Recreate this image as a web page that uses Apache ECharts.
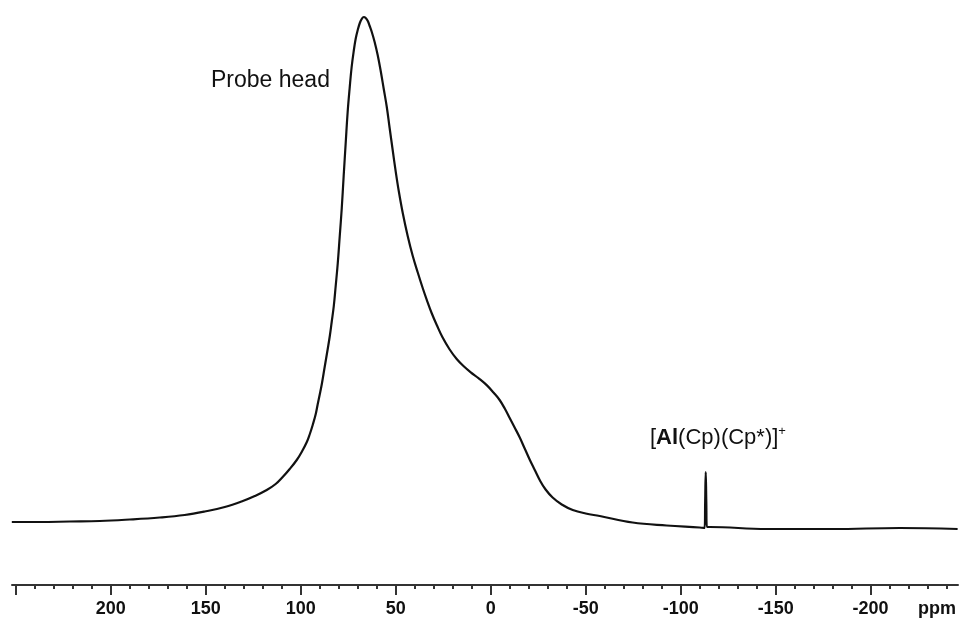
<!DOCTYPE html>
<html>
<head>
<meta charset="utf-8">
<script src="https://cdn.jsdelivr.net/npm/echarts@6/dist/echarts.min.js"></script>
<style>html,body{margin:0;padding:0;background:#fff;}#c{width:962px;height:621px;}</style>
</head>
<body>
<div id="c"></div>
<script>
// chemical shift (ppm) and intensity (arbitrary units)
const shiftPpm = [252.1, 237.4, 221.6, 205.8, 190.0, 174.2, 161.1, 150.5, 140.0, 130.5, 124.2, 117.9, 113.2, 109.5, 105.8, 102.1, 99.5, 96.8, 95.3, 93.7, 92.1, 91.1, 90.0, 88.9, 87.4, 85.8, 84.7, 83.7, 82.6, 81.6, 80.5, 79.5, 78.4, 77.4, 76.3, 75.3, 74.2, 73.2, 72.1, 71.1, 70.0, 68.9, 67.9, 66.8, 65.8, 64.7, 63.7, 62.6, 61.1, 59.5, 57.9, 56.3, 54.7, 53.2, 51.6, 50.0, 48.4, 46.3, 43.7, 41.1, 38.4, 35.8, 33.7, 31.1, 28.4, 25.3, 21.6, 17.9, 14.2, 10.5, 6.3, 2.1, -1.6, -4.7, -7.4, -10.0, -12.6, -15.3, -17.9, -20.5, -23.2, -25.8, -28.9, -32.6, -37.4, -43.2, -50.0, -57.4, -74.7, -92.6, -110.0, -112.6, -112.9, -113.2, -113.5, -113.8, -115.3, -145.3, -180.0, -215.3, -245.8];
const intensity = [0, 0, 0.5, 1, 2.5, 4.5, 7, 10.5, 15, 21, 26, 32, 38, 45, 53, 62, 70, 80, 87.5, 97, 108, 117.5, 127.5, 138, 155, 173, 186, 200, 216, 236, 259, 285, 314, 346, 380, 410, 435, 455, 471, 483, 492, 499, 503, 505, 504, 501, 496, 490, 480, 467, 451, 433, 415, 394, 372, 350.4, 331, 309, 286, 266.5, 249.5, 234, 222.4, 209, 197, 184.4, 172.5, 163, 155.7, 149.7, 143.7, 136.9, 129.2, 122, 113.5, 104, 94.5, 84.5, 73.5, 62.5, 52, 42, 32.5, 24.5, 17.5, 12, 8.5, 6, -0.5, -3.5, -5.5, -6, 20, 50, 20, -5, -5, -7, -7, -6, -7];

const majorTicks = [250, 200, 150, 100, 50, 0, -50, -100, -150, -200];
const minorTicks = [];
for (let v = 240; v >= -240; v -= 10) { if (v % 50 !== 0) minorTicks.push(v); }
const tickLabels = [200, 150, 100, 50, 0, -50, -100, -150, -200];
const unitLabelPos = -235;
const unitLabel = 'ppm';

const chart = echarts.init(document.getElementById('c'));
const axisCommon = {
  type: 'value', min: -246, max: 252, inverse: true, position: 'bottom',
  splitLine: { show: false }
};
chart.setOption({
  animation: false,
  grid: { left: 12, right: 4, top: 10, bottom: 36 },
  xAxis: [
    Object.assign({}, axisCommon, {
      axisLine: { show: true, onZero: false, lineStyle: { color: '#333', width: 2 } },
      axisTick: { show: true, customValues: majorTicks, length: 10, lineStyle: { color: '#333', width: 2 } },
      axisLabel: {
        show: true, customValues: tickLabels.concat([unitLabelPos]), margin: 15,
        fontFamily: 'Liberation Sans', fontWeight: 'bold', fontSize: 18, color: '#111',
        formatter: v => (v === unitLabelPos ? unitLabel : String(v))
      }
    }),
    Object.assign({}, axisCommon, {
      axisLine: { show: false, onZero: false },
      axisTick: { show: true, customValues: minorTicks, length: 4, lineStyle: { color: '#333', width: 2 } },
      axisLabel: { show: false }
    })
  ],
  yAxis: { type: 'value', min: -63, max: 512, show: false },
  series: [{
    type: 'line', xAxisIndex: 0, showSymbol: false, smooth: 0.4,
    lineStyle: { color: '#111', width: 2.2 },
    data: shiftPpm.map((p, i) => [p, intensity[i]])
  }],
  graphic: [
    { type: 'text', left: 211, top: 69, style: { text: 'Probe head', font: '23px "Liberation Sans"', fill: '#111' } },
    { type: 'text', left: 650, top: 425, style: {
        text: '[{b|Al}(Cp)(Cp*)]{s|+}', font: '22px "Liberation Sans"', fill: '#111',
        rich: { b: { fontWeight: 'bold', fontSize: 22, fontFamily: 'Liberation Sans' },
                s: { fontSize: 13, fontFamily: 'Liberation Sans', verticalAlign: 'top', lineHeight: 26 } }
    } }
  ]
});
</script>
</body>
</html>
